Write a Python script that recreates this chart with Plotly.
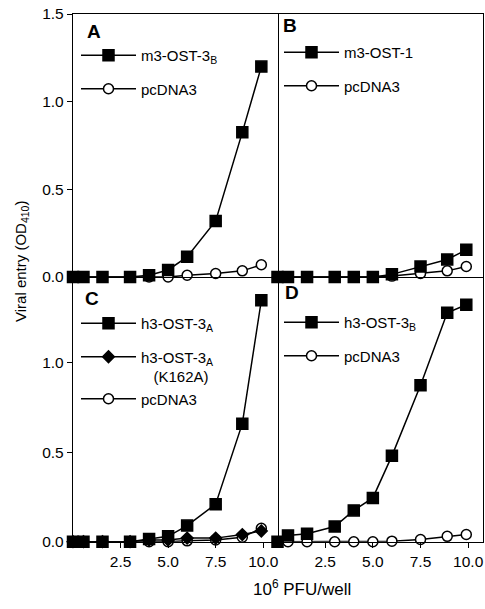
import plotly.graph_objects as go

# ---- data ----
dose = [0, 0.55, 1.55, 3.0, 4.0, 5.0, 6.0, 7.5, 8.9, 9.9]   # 10^6 PFU/well

a_m3_ost3b = [0, 0, 0, 0, 0.01, 0.04, 0.115, 0.32, 0.825, 1.2]
a_pcdna3 = [0, 0, 0, 0, 0.0, 0.0, 0.01, 0.02, 0.035, 0.07]

b_m3_ost1 = [0, 0, 0, 0, 0, 0, 0.015, 0.06, 0.10, 0.155]
b_pcdna3 = [0, 0, 0, 0, 0, 0, 0.005, 0.02, 0.035, 0.06]

c_h3_ost3a = [0, 0, 0, 0, 0.015, 0.03, 0.09, 0.21, 0.66, 1.35]
c_k162a = [0, 0, 0, 0, 0.01, 0.01, 0.02, 0.02, 0.04, 0.06]
c_pcdna3 = [0, 0, 0, 0, 0, 0, 0.005, 0.01, 0.025, 0.075]

d_h3_ost3b = [0, 0.035, 0.045, 0.085, 0.175, 0.245, 0.48, 0.875, 1.28, 1.325]
d_pcdna3 = [0, 0, 0, 0, 0, 0, 0.003, 0.012, 0.03, 0.04]

x_tickvals = [2.5, 5.0, 7.5, 10.0]
x_ticktext = ["2.5", "5.0", "7.5", "10.0"]
y_tickvals_top = [0, 0.5, 1.0, 1.5]
y_ticktext_top = ["0.0", "0.5", "1.0", "1.5"]
y_tickvals_bot = [0, 0.5, 1.0]
y_ticktext_bot = ["0.0", "0.5", "1.0"]

FONT = "Liberation Sans, Arial, sans-serif"
W, H = 485, 609

fig = go.Figure()

def px(v):
    return v / W

def py(v):
    return 1 - v / H

def add(x, y, name, symbol, fill, panel, legend, group, size, rank):
    fig.add_trace(go.Scatter(
        x=x, y=y, name=name, mode="lines+markers",
        xaxis="x" if panel == 1 else f"x{panel}",
        yaxis="y" if panel == 1 else f"y{panel}",
        line=dict(color="black", width=1.5),
        marker=dict(symbol=symbol, size=size, color=fill,
                    line=dict(color="black", width=1.5)),
        cliponaxis=False, legend=legend, legendgroup=group, legendrank=rank,
    ))

# open circles drawn first (underneath), filled markers on top
add(dose, a_pcdna3, "pcDNA3", "circle", "white", 1, "legend", "a2", 10, 3)
add(dose, a_m3_ost3b, "m3-OST-3<sub>B</sub>", "square", "black", 1, "legend", "a1", 11, 1)
add(dose, b_pcdna3, "pcDNA3", "circle", "white", 2, "legend2", "b2", 10, 3)
add(dose, b_m3_ost1, "m3-OST-1", "square", "black", 2, "legend2", "b1", 11, 1)
add(dose, c_pcdna3, "pcDNA3", "circle", "white", 3, "legend3", "c2", 10, 3)
add(dose, c_k162a, "h3-OST-3<sub>A</sub><br>   (K162A)", "diamond", "black", 3, "legend3", "c2", 9, 2)
add(dose, c_h3_ost3a, "h3-OST-3<sub>A</sub>", "square", "black", 3, "legend3", "c1", 11, 1)
add(dose, d_pcdna3, "pcDNA3", "circle", "white", 4, "legend4", "d2", 10, 3)
add(dose, d_h3_ost3b, "h3-OST-3<sub>B</sub>", "square", "black", 4, "legend4", "d1", 11, 1)

xl = [px(73), px(277.5)]
xr = [px(277.5), px(482.5)]
yt = [py(277), py(14)]
yb = [py(541.7), py(277)]

LW = 1.4
base = dict(showline=True, linecolor="black", linewidth=LW,
            showgrid=False, zeroline=False, automargin=False,
            tickfont=dict(family=FONT, size=15.5, color="black"))

xr_range = [0, 10.75]
tick_style = dict(ticks="outside", ticklen=5, tickwidth=1.2, tickcolor="black")
fig.update_layout(
    # top panels: bottom line + top mirror (bottom line doubles as the top of C/D)
    xaxis=dict(domain=xl, range=xr_range, showticklabels=False, ticks="", mirror=True, anchor="y", **base),
    xaxis2=dict(domain=xr, range=xr_range, showticklabels=False, ticks="", mirror=True, anchor="y2", **base),
    # bottom panels: bottom line only
    xaxis3=dict(domain=xl, range=xr_range, tickvals=x_tickvals, ticktext=x_ticktext, mirror=False,
                anchor="y3", **tick_style, **base),
    xaxis4=dict(domain=xr, range=xr_range, tickvals=x_tickvals, ticktext=x_ticktext, mirror=False,
                anchor="y4", **tick_style, **base),
    # left panels: left line + right mirror (doubles as left edge of B/D)
    yaxis=dict(domain=yt, range=[0, 1.5], tickvals=y_tickvals_top, ticktext=y_ticktext_top,
               mirror=True, anchor="x", **tick_style, **base),
    yaxis3=dict(domain=yb, range=[0, 1.48], tickvals=y_tickvals_bot, ticktext=y_ticktext_bot,
                mirror=True, anchor="x3", **tick_style, **base),
    # right panels: right line only
    yaxis2=dict(domain=yt, range=[0, 1.5], showticklabels=False, ticks="", side="right",
                mirror=False, anchor="x2", **base),
    yaxis4=dict(domain=yb, range=[0, 1.48], showticklabels=False, ticks="", side="right",
                mirror=False, anchor="x4", **base),
)

leg_common = dict(bgcolor="rgba(0,0,0,0)", borderwidth=0, xanchor="left", yanchor="top",
                  font=dict(family=FONT, size=15, color="black"), itemwidth=55,
                  tracegroupgap=11, valign="top", traceorder="grouped")
fig.update_layout(
    legend=dict(x=px(76), y=py(39), **leg_common),
    legend2=dict(x=px(279), y=py(36), **leg_common),
    legend3=dict(x=px(76), y=py(307), **leg_common),
    legend4=dict(x=px(279), y=py(306), **leg_common),
)

letters = [("A", 94, 31), ("B", 290, 26), ("C", 92, 298), ("D", 292, 292)]
ann = []
for t, x, y in letters:
    ann.append(dict(text=f"<b>{t}</b>", x=px(x), y=py(y), xref="paper", yref="paper",
                    showarrow=False, font=dict(family=FONT, size=19, color="black"),
                    xanchor="center", yanchor="middle"))
ann.append(dict(text="Viral entry (OD<sub>410</sub>)", x=px(22), y=py(262), xref="paper", yref="paper",
                showarrow=False, textangle=-90, font=dict(family=FONT, size=15, color="black"),
                xanchor="center", yanchor="middle"))
ann.append(dict(text="10<sup>6</sup> PFU/well", x=px(302), y=py(588), xref="paper", yref="paper",
                showarrow=False, font=dict(family=FONT, size=17, color="black"),
                xanchor="center", yanchor="middle"))

fig.update_layout(
    annotations=ann, width=W, height=H, margin=dict(l=0, r=0, t=0, b=0),
    paper_bgcolor="white", plot_bgcolor="rgba(0,0,0,0)", showlegend=True,
    font=dict(family=FONT, color="black"),
)

fig.write_html("out.html", config={"displayModeBar": False},
               post_script="document.body.style.margin='0';")
